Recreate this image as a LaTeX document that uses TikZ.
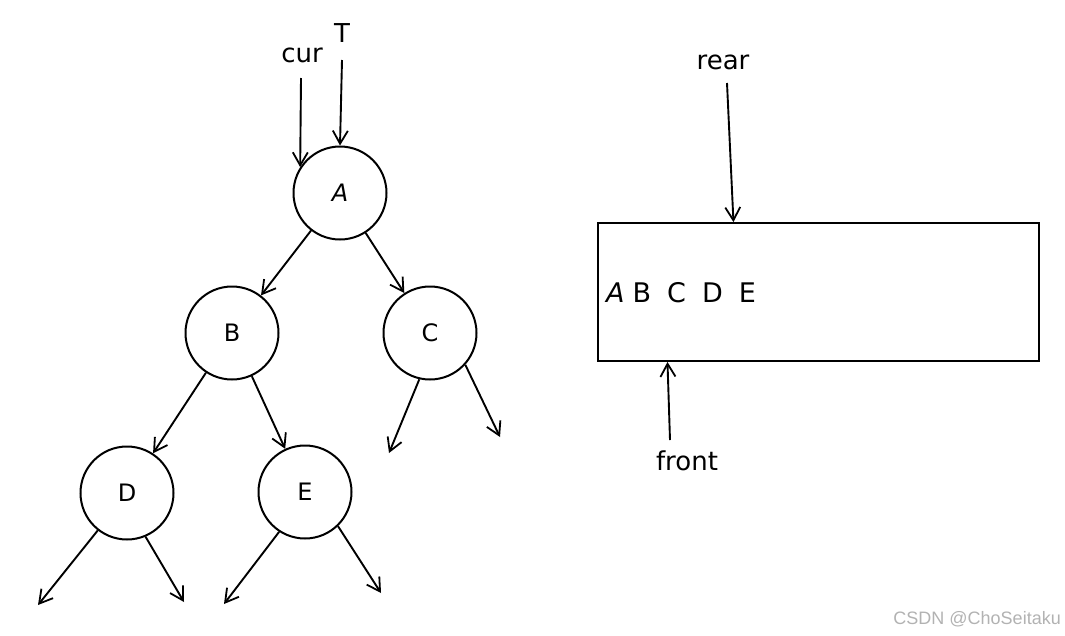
\documentclass[tikz,border=0pt]{standalone}
\usepackage{fontspec}
\setmainfont{DejaVu Sans}
\newfontfamily\wmfont{Liberation Sans}
\usetikzlibrary{arrows.meta,calc}
\tikzset{
  tnode/.style={draw, circle, line width=2pt, minimum size=93pt, inner sep=0pt, font=\fontsize{24}{26}\selectfont},
  arr/.style={line width=1.9pt, -{Straight Barb[length=13pt,width=15pt,line width=1.8pt]}},
  lbl/.style={font=\fontsize{26}{28}\selectfont, inner sep=0pt},
  qbox/.style={draw, line width=1.9pt, minimum width=441pt, minimum height=138pt, inner sep=0pt},
  wm/.style={font=\wmfont\fontsize{18}{20}\selectfont, text=black!30, inner sep=0pt}
}
\newcommand{\qgap}{\hspace{16pt}}
\begin{document}
\begin{tikzpicture}[x=1pt,y=-1pt]
\useasboundingbox (0,0) rectangle (1065,635);
% tree nodes
\node[tnode] (A) at (340,193) {\textit{A}};
\node[tnode] (B) at (232,333) {B};
\node[tnode] (C) at (430,333) {C};
\node[tnode] (D) at (127,493) {D};
\node[tnode] (E) at (305,492) {E};
% pointer labels
\node[lbl] (cur) at (302,55) {cur};
\node[lbl] (T) at (342,33) {T};
\coordinate (curtail) at (301,78);
\coordinate (Ttail) at (342,60);
\draw[arr] (curtail) -- (A.147);
\draw[arr] (Ttail) -- (A.north);
% tree edges
\draw[arr] (A) -- (B);
\draw[arr] (A) -- (C);
\draw[arr] (B) -- (D);
\draw[arr] (B) -- (E);
% null children
\coordinate (cl) at (389,453);
\coordinate (cr) at (500,437);
\coordinate (dl) at (38,605);
\coordinate (dr) at (184,602);
\coordinate (el) at (224,604);
\coordinate (er) at (381,593);
\draw[arr] (C.257) -- (cl);
\draw[arr] (C.318) -- (cr);
\draw[arr] (D.232) -- (dl);
\draw[arr] (D.293) -- (dr);
\draw[arr] (E.237) -- (el);
\draw[arr] (E.314) -- (er);
% queue
\node[qbox] (Q) at (818.5,292) {};
\node[font=\fontsize{27}{30}\selectfont, inner sep=0pt, anchor=west] (items) at (606,293) {\textit{A}\hspace{8pt}B\qgap C\qgap D\qgap E};
\node[lbl] (rear) at (723,62) {rear};
\node[lbl] (front) at (687,461) {front};
\coordinate (reartail) at (727,83);
\coordinate (fronttail) at (670,440);
\draw[arr] (reartail) -- ($(Q.north west)!0.308!(Q.north east)$);
\draw[arr] (fronttail) -- ($(Q.south west)!0.159!(Q.south east)$);
% watermark
\node[wm, anchor=east] (wmk) at (1061,619) {CSDN @ChoSeitaku};
\end{tikzpicture}
\end{document}
